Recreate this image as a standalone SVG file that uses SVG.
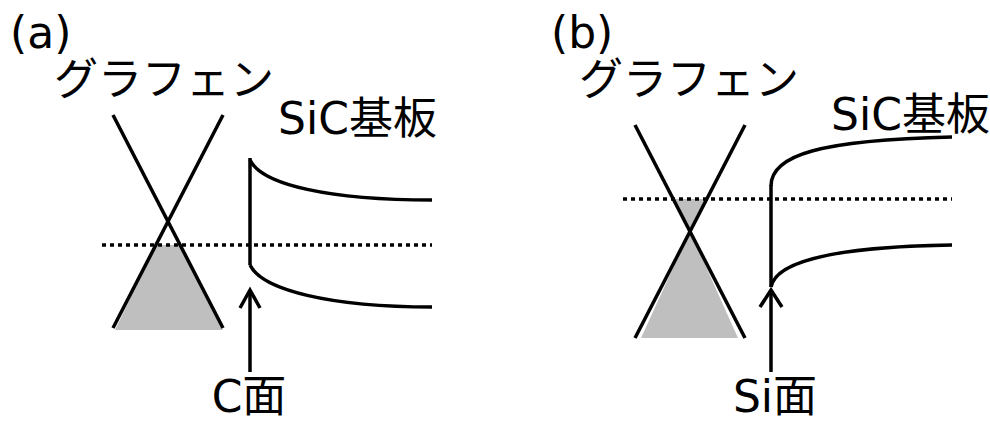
<svg xmlns="http://www.w3.org/2000/svg" width="990" height="423" viewBox="0 0 990 423">
<style>
text{font-family:"DejaVu Sans","Noto Sans CJK JP",sans-serif;font-size:44px;fill:#000}
.ln{fill:none;stroke:#000;stroke-width:3.5}
.dot{fill:none;stroke:#000;stroke-width:3.5;stroke-dasharray:4 4}
.gray{fill:#bfbfbf;stroke:none}
</style>
<rect width="990" height="423" fill="#fff"/>
<g id="panel-a">
<text x="10" y="48">(a)</text>
<g id="graphene-a">
<text x="164" y="95" text-anchor="middle">グラフェン</text>
<polygon class="gray" points="156,245 180,245 223,330 115,330"/>
<line class="ln" x1="113" y1="115" x2="223" y2="328"/>
<line class="ln" x1="223" y1="115" x2="113" y2="328"/>
</g>
<g id="sic-a">
<text x="278" y="134">SiC基板</text>
<path class="ln" d="M250,158 L250,265"/>
<path class="ln" d="M250,160 C262,185 330,200 432,200"/>
<path class="ln" d="M250,265 C262,290 330,307 432,307"/>
</g>
<line id="fermi-a" class="dot" x1="102" y1="245" x2="432" y2="245"/>
<text id="label-c" x="249" y="412" text-anchor="middle">C面</text>
</g>
<g id="panel-b">
<text x="551" y="48">(b)</text>
<g id="graphene-b">
<text x="689" y="95" text-anchor="middle">グラフェン</text>
<polygon class="gray" points="674,199 706,199 690,231"/>
<polygon class="gray" points="690,231 738,338 641,338"/>
<line class="ln" x1="635" y1="125" x2="745" y2="338"/>
<line class="ln" x1="745" y1="125" x2="635" y2="338"/>
</g>
<g id="sic-b">
<text x="831" y="130">SiC基板</text>
<path class="ln" d="M771,185 L771,287"/>
<path class="ln" d="M771,186 C771,155 820,140 952,137"/>
<path class="ln" d="M771,287 C775,265 820,247 952,245"/>
</g>
<line id="fermi-b" class="dot" x1="623" y1="199" x2="952" y2="199"/>
<text id="label-si" x="775" y="412" text-anchor="middle">Si面</text>
</g>
<g id="connectors">
<path class="ln" d="M250,372 L250,290"/>
<path class="ln" d="M240,308 L250,290 L260,308"/>
<path class="ln" d="M771,372 L771,292"/>
<path class="ln" d="M760,307 L771,290 L782,307"/>
</g>
</svg>
